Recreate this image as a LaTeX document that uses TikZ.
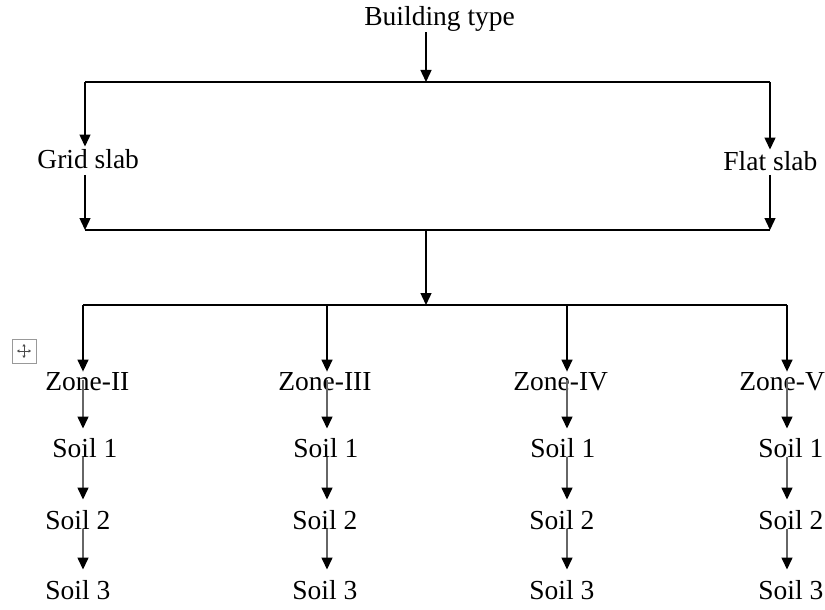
\documentclass[tikz,border=0pt]{standalone}
\usepackage{fontspec}
\setmainfont{Liberation Serif}
\usetikzlibrary{arrows.meta,calc}
\begin{document}
\begin{tikzpicture}[x=0.5pt,y=-0.5pt,
  lbl/.style={inner sep=0pt,anchor=base west,font=\fontsize{13.75}{16}\selectfont},
  arr/.style={-{Triangle[length=6pt,width=5.5pt]},line width=0.7pt,black},
  ln/.style={line width=0.7pt,black},
  sarr/.style={-{Triangle[length=6pt,width=5.5pt,color=black]},line width=0.75pt,black!60},
  iconbox/.style={draw=black!40,line width=0.5pt},
  iconarr/.style={-{Triangle[length=1.2pt,width=1.6pt]},line width=0.4pt,black!70}]
\clip (0,0) rectangle (825,610);
% top
\node[lbl] (bt) at (364,26) {Building type};
\coordinate (j1) at (426,82);
\coordinate (tl) at (85,82);
\coordinate (tr) at (770,82);
\draw[arr] (bt.south -| j1) -- (j1);
\draw[ln] (tl) -- (tr);
% slabs
\node[lbl] (grid) at (37,169) {Grid slab};
\node[lbl] (flat) at (723,170) {Flat slab};
\draw[arr] (tl) -- ($(tl |- grid.north)+(0,-3)$);
\draw[arr] (tr) -- ($(tr |- flat.north)+(0,-1)$);
\coordinate (bl) at (85,230);
\coordinate (br) at (770,230);
\draw[arr] ($(bl |- grid.base)+(0,6)$) -- (bl);
\draw[arr] ($(br |- flat.base)+(0,5)$) -- (br);
\draw[ln] (bl) -- (br);
\coordinate (m) at (426,230);
\coordinate (m2) at (426,305);
\draw[arr] (m) -- (m2);
\coordinate (zl) at (83,305);
\coordinate (zr) at (787,305);
\draw[ln] (zl) -- (zr);
% zones
\node[lbl] (z1) at (45,390) {Zone-II};
\node[lbl] (z2) at (278,390) {Zone-III};
\node[lbl] (z3) at (513,390) {Zone-IV};
\node[lbl] (z4) at (739,390) {Zone-V};
% soils
\node[lbl] (a1) at (52,457) {Soil 1};
\node[lbl] (a2) at (293,457) {Soil 1};
\node[lbl] (a3) at (530,457) {Soil 1};
\node[lbl] (a4) at (758,457) {Soil 1};
\node[lbl] (b1) at (45,529) {Soil 2};
\node[lbl] (b2) at (292,529) {Soil 2};
\node[lbl] (b3) at (529,529) {Soil 2};
\node[lbl] (b4) at (758,529) {Soil 2};
\node[lbl] (c1) at (45,599) {Soil 3};
\node[lbl] (c2) at (292,599) {Soil 3};
\node[lbl] (c3) at (529,599) {Soil 3};
\node[lbl] (c4) at (758,599) {Soil 3};
\foreach \i/\x in {1/83,2/327,3/567,4/787} {
  \coordinate (k\i) at (\x,305);
  \draw[arr] (k\i) -- (k\i |- z\i.north);
  \draw[sarr] ($(k\i |- z\i.base)+(0,-10)$) -- ($(k\i |- a\i.north)+(0,-9)$);
  \draw[sarr] (k\i |- a\i.base) -- ($(k\i |- b\i.north)+(0,-10)$);
  \draw[sarr] (k\i |- b\i.base) -- ($(k\i |- c\i.north)+(0,-10)$);
}
% table move handle icon
\draw[iconbox] (12,339) rectangle (36,363);
\coordinate (ic) at (24,351);
\draw[iconarr] (ic) -- ++(7,0);
\draw[iconarr] (ic) -- ++(-7,0);
\draw[iconarr] (ic) -- ++(0,7);
\draw[iconarr] (ic) -- ++(0,-7);
\end{tikzpicture}
\end{document}
